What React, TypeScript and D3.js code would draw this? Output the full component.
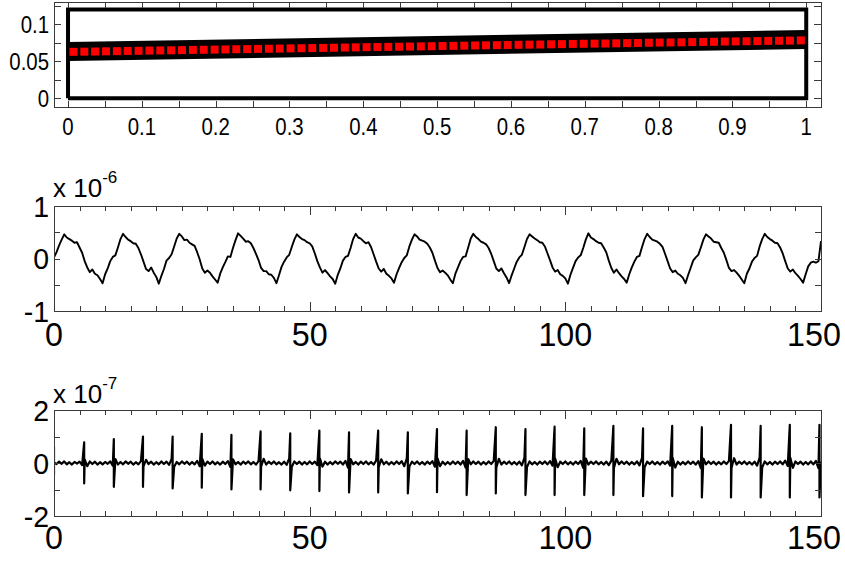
import React from 'react';
import * as d3 from 'd3';

const FONT = '"Liberation Sans", Arial, Helvetica, sans-serif';

// ---------- Top panel data ----------
const topXTickValues = [0, 0.1, 0.2, 0.3, 0.4, 0.5, 0.6, 0.7, 0.8, 0.9, 1];
const topXTickLabels = ['0', '0.1', '0.2', '0.3', '0.4', '0.5', '0.6', '0.7', '0.8', '0.9', '1'];
const topXMinorTicks = [0, 0.05, 0.1, 0.15, 0.2, 0.25, 0.3, 0.35, 0.4, 0.45, 0.5, 0.55, 0.6, 0.65, 0.7, 0.75, 0.8, 0.85, 0.9, 0.95, 1];
const topYTickValues = [0, 0.05, 0.1];
const topYTickLabels = ['0', '0.05', '0.1'];
const topYMinorTicks = [0, 0.025, 0.05, 0.075, 0.1, 0.125];
const frameX = [0, 1, 1, 0, 0];
const frameY = [0, 0, 0.12, 0.12, 0];
const trendX = [0, 1];
const trendY = [0.0631, 0.0792];
const markerY = [
  0.0626, 0.0628, 0.0630, 0.0633, 0.0635, 0.0638, 0.0640, 0.0643, 0.0645, 0.0647,
  0.0649, 0.0652, 0.0654, 0.0656, 0.0658, 0.0661, 0.0663, 0.0665, 0.0668, 0.0670,
  0.0673, 0.0675, 0.0677, 0.0679, 0.0682, 0.0684, 0.0686, 0.0689, 0.0691, 0.0693,
  0.0695, 0.0698, 0.0700, 0.0702, 0.0705, 0.0707, 0.0709, 0.0712, 0.0714, 0.0716,
  0.0718, 0.0721, 0.0723, 0.0725, 0.0728, 0.0730, 0.0733, 0.0735, 0.0737, 0.0739,
  0.0741, 0.0744, 0.0746, 0.0749, 0.0751, 0.0753, 0.0755, 0.0758, 0.0760, 0.0762,
  0.0765, 0.0767, 0.0769, 0.0771, 0.0774, 0.0776, 0.0778, 0.0781,
];

// ---------- Middle panel data (x 1e-6), sampled every 0.5 ----------
const midStep = 0.5;
const midXTickLabels = ['0', '50', '100', '150'];
const midXMajor = [0, 50, 100, 150];
const midXMinor = [0, 5, 10, 15, 20, 25, 30, 35, 40, 45, 50, 55, 60, 65, 70, 75, 80, 85, 90, 95, 100, 105, 110, 115, 120, 125, 130, 135, 140, 145, 150];
const midYTicks = [-1, -0.5, 0, 0.5, 1];
const midYTickValues = [1, 0, -1];
const midYTickLabels = ['1', '0', '-1'];
const midY = [
  0.02, 0.12, 0.25, 0.36,
  0.46, 0.40, 0.37, 0.34, 0.30, 0.31, 0.21, 0.11, -0.05, -0.17, -0.26, -0.21, -0.29, -0.32, -0.39, -0.47, -0.30, -0.19, -0.05, 0.03, 0.06, 0.21, 0.37,
  0.47, 0.41, 0.36, 0.33, 0.29, 0.28, 0.20, 0.08, -0.06, -0.20, -0.24, -0.17, -0.27, -0.35, -0.48, -0.33, -0.20, -0.04, 0.01, 0.08, 0.23, 0.38,
  0.47, 0.42, 0.35, 0.36, 0.30, 0.27, 0.24, 0.12, -0.02, -0.19, -0.27, -0.23, -0.27, -0.34, -0.40, -0.46, -0.29, -0.17, -0.07, 0.04, 0.03, 0.20, 0.35,
  0.48, 0.43, 0.38, 0.32, 0.33, 0.29, 0.20, 0.09, -0.03, -0.18, -0.24, -0.24, -0.30, -0.31, -0.37, -0.47, -0.32, -0.16, -0.06, 0.02, 0.07, 0.22, 0.36,
  0.46, 0.41, 0.37, 0.35, 0.31, 0.29, 0.23, 0.10, -0.05, -0.17, -0.27, -0.22, -0.28, -0.34, -0.39, -0.48, -0.31, -0.19, -0.04, 0.03, 0.05, 0.20, 0.37,
  0.47, 0.40, 0.38, 0.33, 0.29, 0.31, 0.22, 0.08, -0.06, -0.19, -0.25, -0.20, -0.29, -0.33, -0.38, -0.46, -0.30, -0.18, -0.07, 0.01, 0.06, 0.23, 0.36,
  0.46, 0.42, 0.36, 0.34, 0.32, 0.28, 0.21, 0.11, -0.04, -0.18, -0.26, -0.23, -0.27, -0.32, -0.40, -0.47, -0.29, -0.17, -0.05, 0.03, 0.04, 0.21, 0.38,
  0.47, 0.41, 0.37, 0.32, 0.30, 0.27, 0.20, 0.09, -0.05, -0.19, -0.24, -0.19, -0.28, -0.36, -0.47, -0.32, -0.19, -0.06, 0.02, 0.07, 0.22, 0.37,
  0.46, 0.42, 0.38, 0.35, 0.31, 0.30, 0.23, 0.10, -0.03, -0.17, -0.25, -0.22, -0.30, -0.33, -0.38, -0.48, -0.31, -0.18, -0.05, 0.02, 0.06, 0.20, 0.36,
  0.48, 0.40, 0.37, 0.33, 0.30, 0.29, 0.21, 0.12, -0.04, -0.18, -0.27, -0.21, -0.28, -0.34, -0.39, -0.46, -0.30, -0.17, -0.06, 0.03, 0.05, 0.22, 0.37,
  0.47, 0.41, 0.36, 0.34, 0.32, 0.28, 0.22, 0.09, -0.05, -0.19, -0.26, -0.23, -0.29, -0.32, -0.37, -0.47, -0.32, -0.18, -0.04, 0.02, 0.07, 0.21, 0.36,
  0.46, 0.42, 0.38, 0.32, 0.31, 0.30, 0.20, 0.11, -0.03, -0.18, -0.24, -0.22, -0.27, -0.33, -0.40, -0.47, -0.29, -0.19, -0.06, 0.01, 0.05, 0.23, 0.37,
  0.47, 0.41, 0.37, 0.34, 0.30, 0.29, 0.21, 0.10, -0.05, -0.19, -0.25, -0.21, -0.28, -0.33, -0.39, -0.46, -0.30, -0.15, -0.08, -0.06, -0.08, -0.05, 0.33,
];

// ---------- Bottom panel data (x 1e-7) ----------
const botStep = 0.5;
const botYTicks = [-2, -1, 0, 1, 2];
const botYTickValues = [2, 0, -2];
const botYTickLabels = ['2', '0', '-2'];
const botBase = [
  0.02, -0.04, 0.05, -0.03, 0.06, -0.05, 0.03, -0.06, 0.04, -0.02,
  0.05, -0.08, 0.14, -0.12, 0.06, -0.04, 0.05, -0.06, 0.03, -0.05,
  0.04, -0.03, 0.06, -0.10, 0.15, -0.06, 0.04, -0.05, 0.06, -0.03,
  0.05, -0.06, 0.03, -0.05, 0.07, -0.13, 0.12, -0.04, 0.05, -0.06,
  0.03, -0.05, 0.06, -0.04, 0.05, -0.07, 0.15, -0.14, 0.04, -0.05,
  0.06, -0.03, 0.05, -0.06, 0.04, -0.05, 0.08, -0.12, 0.16, -0.10,
  0.05, -0.04, 0.06, -0.05, 0.03, -0.06, 0.05, -0.04, 0.07, -0.15,
  0.14, -0.05, 0.04, -0.06, 0.05, -0.03, 0.06, -0.05, 0.04, -0.06,
  0.07, -0.14, 0.16, -0.06, 0.05, -0.04, 0.06, -0.05, 0.03, -0.06,
  0.05, -0.07, 0.17, -0.15, 0.06, -0.04, 0.05, -0.06, 0.04, -0.05,
  0.06, -0.04, 0.05, -0.08, 0.18, -0.14, 0.05, -0.06, 0.04, -0.05,
  0.06, -0.03, 0.05, -0.06, 0.08, -0.17, 0.15, -0.05, 0.04, -0.06,
  0.05, -0.04, 0.06, -0.05, 0.04, -0.06, 0.09, -0.16, 0.14, -0.05,
  0.05, -0.06, 0.04, -0.05, 0.06, -0.04, 0.07, -0.12, 0.18, -0.13,
  0.05, -0.04, 0.06, -0.05, 0.04, -0.06, 0.05, -0.04, 0.07, -0.14,
  0.18, -0.12, 0.05, -0.06, 0.04, -0.05, 0.06, -0.04, 0.05, -0.06,
  0.08, -0.17, 0.15, -0.05, 0.06, -0.04, 0.05, -0.06, 0.04, -0.05,
  0.06, -0.04, 0.08, -0.18, 0.16, -0.06, 0.05, -0.04, 0.06, -0.05,
  0.04, -0.06, 0.05, -0.09, 0.19, -0.15, 0.06, -0.05, 0.04, -0.06,
  0.05, -0.04, 0.06, -0.05, 0.07, -0.10, 0.18, -0.16, 0.05, -0.04,
  0.06, -0.05, 0.04, -0.06, 0.05, -0.04, 0.08, -0.18, 0.17, -0.06,
  0.05, -0.04, 0.06, -0.05, 0.04, -0.06, 0.05, -0.08, 0.09, -0.19,
  0.16, -0.05, 0.06, -0.04, 0.05, -0.06, 0.04, -0.05, 0.06, -0.09,
  0.19, -0.16, 0.05, -0.04, 0.06, -0.05, 0.04, -0.06, 0.05, -0.04,
  0.06, -0.10, 0.19, -0.17, 0.05, -0.06, 0.04, -0.05, 0.06, -0.04,
  0.05, -0.06, 0.07, -0.19, 0.17, -0.05, 0.06, -0.04, 0.05, -0.06,
  0.04, -0.05, 0.06, -0.04, 0.08, -0.19, 0.18, -0.06, 0.05, -0.04,
  0.06, -0.05, 0.04, -0.06, 0.05, -0.10, 0.20, -0.17, 0.06, -0.05,
  0.04, -0.06, 0.05, -0.04, 0.06, -0.05, 0.09, -0.11, 0.20, -0.18,
  0.06, -0.04, 0.05, -0.06, 0.04, -0.05, 0.06, -0.05, 0.08, -0.19,
  0.06,
];
const spikeX = [0, 5.9, 11.7, 17.4, 23.2, 28.9, 34.7, 40.4, 46.2, 51.9, 57.7, 63.4, 69.2, 74.9, 80.7, 86.4, 92.2, 97.9, 103.7, 109.4, 115.2, 120.9, 126.7, 132.4, 138.2, 143.9, 149.7];
const spikeUp = [0.6, 0.78, 0.9, 1.0, 1.0, 1.1, 1.06, 1.19, 1.12, 1.22, 1.16, 1.22, 1.16, 1.28, 1.22, 1.35, 1.28, 1.37, 1.31, 1.4, 1.31, 1.4, 1.35, 1.44, 1.4, 1.44, 1.44];
const spikeDown = [-0.45, -0.77, -0.9, -0.9, -0.96, -0.93, -1.0, -1.0, -1.03, -1.06, -1.11, -1.11, -1.15, -1.1, -1.21, -1.15, -1.21, -1.21, -1.21, -1.21, -1.25, -1.25, -1.3, -1.3, -1.3, -1.3, -1.3];

// ---------- Layout ----------
const W = 845;
const H = 561;
const LEFT = 54;
const RIGHT = 821;
const AX = '#3a3a3a';

type Pt = [number, number];

function sx(text: string, x: number, y: number, size: number, anchor: string, squeeze: number, key?: string | number) {
  return (
    <g key={key} transform={`translate(${x},${y}) scale(${squeeze},1)`}>
      <text x={0} y={0} textAnchor={anchor as any} fontSize={size} fontFamily={FONT} fill="#000">{text}</text>
    </g>
  );
}

export default function App() {
  // Top panel
  const tTop = 2, tBot = 107;
  const xT = d3.scaleLinear().domain([-0.019, 1.02]).range([LEFT, RIGHT]);
  const yT = d3.scaleLinear().domain([-0.012, 0.13]).range([tBot, tTop]);
  const frameLine = d3.line<number>().x((_, i) => xT(frameX[i])).y((_, i) => yT(frameY[i]));
  const trendLine = d3.line<number>().x((_, i) => xT(trendX[i])).y((_, i) => yT(trendY[i]));
  const nM = markerY.length;
  const markerPts: Pt[] = markerY.map((v, i) => [(i + 0.5) / nM, v]);

  // Middle panel
  const mTop = 206, mBot = 311;
  const xM = d3.scaleLinear().domain([0, 150]).range([LEFT, RIGHT]);
  const yM = d3.scaleLinear().domain([-1, 1]).range([mBot, mTop]);
  const midPts: Pt[] = midY.map((v, i) => [i * midStep, v]);
  const midLine = d3.line<Pt>().x(d => xM(d[0])).y(d => yM(d[1]));

  // Bottom panel
  const bTop = 410, bBot = 516;
  const yB = d3.scaleLinear().domain([-2, 2]).range([bBot, bTop]);
  const basePts: Pt[] = botBase.map((v, i) => [i * botStep, v]);
  const spikePts: Pt[] = [];
  spikeX.forEach((x, i) => { spikePts.push([x, spikeUp[i]]); spikePts.push([x, spikeDown[i]]); });
  const botPts: Pt[] = [];
  let si = 0;
  basePts.forEach(p => {
    while (si < spikePts.length && spikePts[si][0] <= p[0]) { botPts.push(spikePts[si]); si++; }
    botPts.push(p);
  });
  while (si < spikePts.length) { botPts.push(spikePts[si]); si++; }
  const botLine = d3.line<Pt>().x(d => xM(d[0])).y(d => yB(d[1]));

  const box = (top: number, bot: number) => (
    <rect x={LEFT + 0.5} y={top + 0.5} width={RIGHT - LEFT} height={bot - top} fill="none" stroke={AX} strokeWidth={1} />
  );

  const xTicks = (vals: number[], sc: (v: number) => number, top: number, bot: number, len: number, keyp: string) =>
    vals.map((v, i) => {
      const x = Math.round(sc(v)) + 0.5;
      return (
        <g key={keyp + i}>
          <line x1={x} x2={x} y1={bot} y2={bot - len} stroke={AX} strokeWidth={1} />
          <line x1={x} x2={x} y1={top} y2={top + len} stroke={AX} strokeWidth={1} />
        </g>
      );
    });
  const yTicks = (vals: number[], sc: (v: number) => number, len: number, keyp: string) =>
    vals.map((v, i) => {
      const y = Math.round(sc(v)) + 0.5;
      return (
        <g key={keyp + i}>
          <line x1={LEFT} x2={LEFT + len} y1={y} y2={y} stroke={AX} strokeWidth={1} />
          <line x1={RIGHT} x2={RIGHT - len} y1={y} y2={y} stroke={AX} strokeWidth={1} />
        </g>
      );
    });

  // x tick label placement: the last label is pulled inside the window like the reference
  const xLabel = (label: string, v: number, y: number, i: number, keyp: string) => {
    const last = i === midXMajor.length - 1;
    return last
      ? sx(label, 841, y, 34, 'end', 0.95, keyp + i)
      : sx(label, xM(v), y, 34, 'middle', 0.95, keyp + i);
  };

  return (
    <svg width={W} height={H} style={{ position: 'absolute', left: 0, top: 0, background: '#fff' }}>
      <defs>
        <clipPath id="clipT"><rect x={LEFT} y={tTop} width={RIGHT - LEFT} height={tBot - tTop} /></clipPath>
        <clipPath id="clipM"><rect x={LEFT} y={mTop} width={RIGHT - LEFT + 1} height={mBot - mTop} /></clipPath>
        <clipPath id="clipB"><rect x={LEFT} y={bTop} width={RIGHT - LEFT + 1} height={bBot - bTop} /></clipPath>
      </defs>
      <rect x={0} y={0} width={W} height={H} fill="#fff" />

      {/* Top panel */}
      <g clipPath="url(#clipT)">
        <path d={frameLine(frameX) || ''} fill="none" stroke="#000" strokeWidth={4} strokeLinejoin="miter" />
        <path d={trendLine(trendX) || ''} fill="none" stroke="#000" strokeWidth={19} strokeLinecap="butt" />
        {markerPts.map((p, i) => (
          <rect key={'m' + i} x={xT(p[0]) - 4} y={yT(p[1]) - 4} width={8} height={8} fill="#ff0000" />
        ))}
      </g>
      {box(tTop, tBot)}
      {xTicks(topXMinorTicks, xT, tTop, tBot, 6, 'tx')}
      {yTicks(topYMinorTicks, yT, 7, 'ty')}
      {topXTickValues.map((v, i) => sx(topXTickLabels[i], xT(v), 135, 24, 'middle', 0.85, 'txl' + i))}
      {topYTickValues.map((v, i) => sx(topYTickLabels[i], 49, yT(v) + 8.5, 24, 'end', 0.85, 'tyl' + i))}

      {/* Middle panel */}
      <g clipPath="url(#clipM)">
        <path d={midLine(midPts) || ''} fill="none" stroke="#000" strokeWidth={1.9} strokeLinejoin="round" />
      </g>
      {box(mTop, mBot)}
      {xTicks(midXMinor, xM, mTop, mBot, 5, 'mx')}
      {xTicks(midXMajor, xM, mTop, mBot, 9, 'mX')}
      {yTicks(midYTicks, yM, 6, 'my')}
      {midXMajor.map((v, i) => xLabel(midXTickLabels[i], v, mBot + 35, i, 'mxl'))}
      {midYTickValues.map((v, i) => sx(midYTickLabels[i], 49, yM(v) + 10.5, 30, 'end', 0.95, 'myl' + i))}
      <text x={53} y={197} fontSize={26} fontFamily={FONT} fill="#000">x 10<tspan dy={-14} fontSize={17}>-6</tspan></text>

      {/* Bottom panel */}
      <g clipPath="url(#clipB)">
        <path d={botLine(botPts) || ''} fill="none" stroke="#000" strokeWidth={2.2} strokeLinejoin="round" />
      </g>
      {box(bTop, bBot)}
      {xTicks(midXMinor, xM, bTop, bBot, 5, 'bx')}
      {xTicks(midXMajor, xM, bTop, bBot, 9, 'bX')}
      {yTicks(botYTicks, yB, 6, 'by')}
      {midXMajor.map((v, i) => xLabel(midXTickLabels[i], v, bBot + 33, i, 'bxl'))}
      {botYTickValues.map((v, i) => sx(botYTickLabels[i], 49, yB(v) + 10.5, 30, 'end', 0.95, 'byl' + i))}
      <text x={53} y={403} fontSize={26} fontFamily={FONT} fill="#000">x 10<tspan dy={-14} fontSize={17}>-7</tspan></text>
    </svg>
  );
}
